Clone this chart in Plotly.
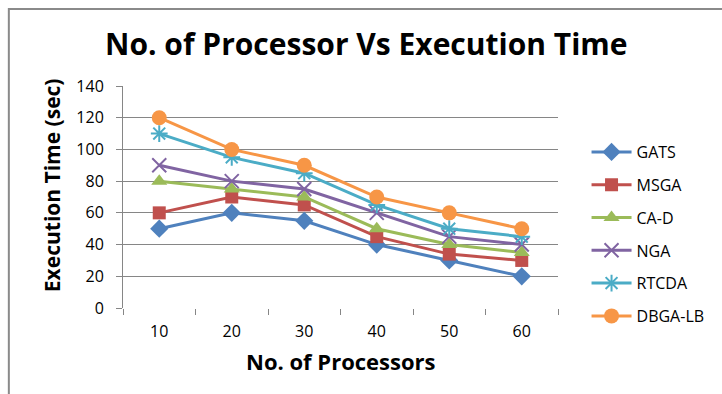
import plotly.graph_objects as go

processors = ["10", "20", "30", "40", "50", "60"]
gats = [50, 60, 55, 40, 30, 20]
msga = [60, 70, 65, 45, 34, 30]
cad = [80, 75, 70, 50, 40, 35]
nga = [90, 80, 75, 60, 45, 40]
rtcda = [110, 95, 85, 65, 50, 45]
dbgalb = [120, 100, 90, 70, 60, 50]
y_ticks = [0, 20, 40, 60, 80, 100, 120, 140]

series = [
    ("GATS", gats, "#4F81BD", "diamond", 14),
    ("MSGA", msga, "#C0504D", "square", 13),
    ("CA-D", cad, "#9BBB59", "triangle-up", 14),
    ("NGA", nga, "#8064A2", "x-thin-open", 14),
    ("RTCDA", rtcda, "#4BACC6", "asterisk-open", 14),
    ("DBGA-LB", dbgalb, "#F79646", "circle", 15),
]

FONT = "Open Sans"
fig = go.Figure()
for i, (name, vals, col, sym, size) in enumerate(series):
    fig.add_trace(go.Scatter(
        x=processors, y=vals, name=name, mode="lines+markers",
        line=dict(color=col, width=3),
        marker=dict(symbol=sym, size=size, color=col,
                    line=dict(color=col, width=2 if "open" in sym else 0)),
        legendgroup=name,
    ))

L, R, T, B = 123, 157, 86, 86
W, H = 722, 394
pw, ph = W - L - R, H - T - B

def px(x):
    return (x - L) / pw

def py(y):
    return (H - B - y) / ph

fig.update_layout(
    width=W, height=H,
    margin=dict(l=L, r=R, t=T, b=B),
    plot_bgcolor="white", paper_bgcolor="white",
    font=dict(family=FONT, size=16, color="#000000"),
    showlegend=True,
    legend=dict(x=px(594), y=py(135), xanchor="left", yanchor="top",
                font=dict(family=FONT, size=16, color="#000000"),
                tracegroupgap=9, itemwidth=40, bgcolor="rgba(0,0,0,0)"),
    xaxis=dict(type="category", range=[-0.5, 5.5], showgrid=False,
               showline=False, ticks="outside", tickson="boundaries",
               ticklen=6, tickcolor="#868686", tickfont=dict(size=16),
               ticklabelstandoff=12,
               zeroline=False, fixedrange=True),
    yaxis=dict(range=[0, 140], tickvals=y_ticks, showgrid=True,
               gridcolor="#868686", gridwidth=1, showline=True,
               linecolor="#868686", linewidth=1, ticks="outside",
               ticklen=6, tickcolor="#868686", ticklabelstandoff=9,
               tickfont=dict(size=16), zeroline=False, fixedrange=True),
    annotations=[
        dict(text="<b>No. of Processor Vs Execution Time</b>", x=px(370), y=py(44),
             xref="paper", yref="paper", showarrow=False,
             xanchor="center", yanchor="middle",
             font=dict(family=FONT, size=30, color="#000000")),
        dict(text="<b>No. of Processors</b>", x=px(344), y=py(361),
             xref="paper", yref="paper", showarrow=False,
             xanchor="center", yanchor="middle",
             font=dict(family=FONT, size=22, color="#000000")),
        dict(text="<b>Execution Time (sec)</b>", x=px(51), y=py(185),
             xref="paper", yref="paper", showarrow=False, textangle=-90,
             xanchor="center", yanchor="middle",
             font=dict(family=FONT, size=21, color="#000000")),
    ],
    shapes=[
        dict(type="rect", xref="paper", yref="paper",
             x0=px(7), x1=px(740), y0=py(420), y1=py(9),
             line=dict(color="#8a8a8a", width=2), fillcolor="rgba(0,0,0,0)",
             layer="below"),
    ],
)

fig.write_html("out.html", config={"displayModeBar": False},
               post_script="document.body.style.margin='0';document.body.style.overflow='hidden';")
